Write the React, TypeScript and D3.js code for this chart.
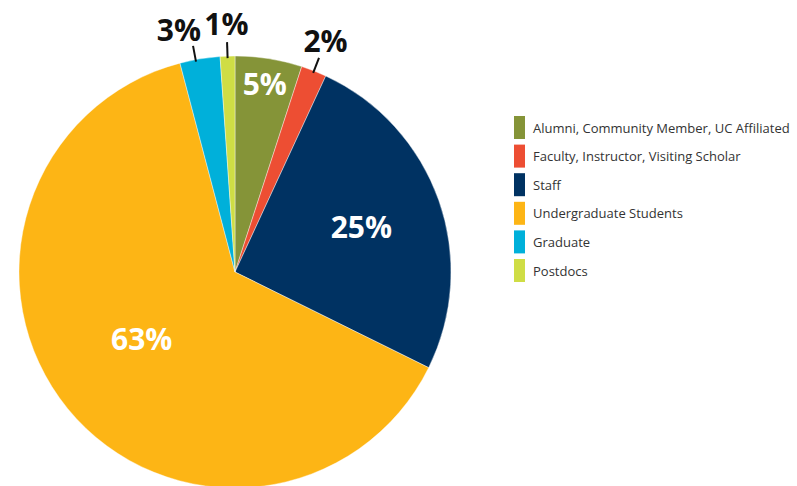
import React from "react";
import * as d3 from "d3";

const categories = [
  "Alumni, Community Member, UC Affiliated",
  "Faculty, Instructor, Visiting Scholar",
  "Staff",
  "Undergraduate Students",
  "Graduate",
  "Postdocs",
];
const values = [5.0, 1.9, 25.4, 63.6, 3.0, 1.1];
const valueLabels = ["5%", "2%", "25%", "63%", "3%", "1%"];
const colors = ["#859438", "#ED4E33", "#003262", "#FDB515", "#00B0DA", "#CFDD45"];

// layout config (not data)
const W = 797;
const H = 486;
const CX = 235;
const CY = 272;
const R = 216;
const FS = 30;
const inside = [true, false, true, true, false, false];
const labelR = [190, 248, 134, 115, 248, 248];
const angleNudge = [0, 0, 0, 0.06, -0.065, 0];

export default function App() {
  const pie = d3
    .pie<number>()
    .sort(null)
    .value((d) => d);
  const arcs = pie(values);
  const arcGen = d3.arc<d3.PieArcDatum<number>>().innerRadius(0).outerRadius(R);

  const legendX = 514;
  const legendY0 = 116;
  const legendStep = 28.6;

  return (
    <svg
      width={W}
      height={H}
      style={{ position: "absolute", left: 0, top: 0, background: "#fff" }}
      fontFamily="'Open Sans', sans-serif"
    >
      <g transform={`translate(${CX},${CY})`}>
        {arcs.map((a, i) => (
          <path key={i} d={arcGen(a) || ""} fill={colors[i]} stroke="#fff" strokeWidth={0.4} />
        ))}
        {arcs.map((a, i) => {
          const mid = (a.startAngle + a.endAngle) / 2 + angleNudge[i];
          const lr = labelR[i];
          const x = Math.sin(mid) * lr;
          const y = -Math.cos(mid) * lr;
          const lineMid = (a.startAngle + a.endAngle) / 2 - (i === 4 ? 0.02 : 0);
          return (
            <g key={i}>
              {!inside[i] && (
                <line
                  x1={Math.sin(lineMid) * (R - 2)}
                  y1={-Math.cos(lineMid) * (R - 2)}
                  x2={Math.sin(lineMid) * (R + 14)}
                  y2={-Math.cos(lineMid) * (R + 14)}
                  stroke="#111"
                  strokeWidth={2}
                />
              )}
              <text
                x={x}
                y={y + FS * 0.357}
                textAnchor="middle"
                fontSize={FS}
                fontWeight={700}
                fill={inside[i] ? "#fff" : "#111"}
              >
                {valueLabels[i]}
              </text>
            </g>
          );
        })}
      </g>
      <g>
        {categories.map((c, i) => (
          <g key={c} transform={`translate(${legendX},${legendY0 + i * legendStep})`}>
            <rect x={0} y={0} width={11} height={23} fill={colors[i]} />
            <text x={19} y={16.5} fontSize={13} fill="#333">
              {c}
            </text>
          </g>
        ))}
      </g>
    </svg>
  );
}
